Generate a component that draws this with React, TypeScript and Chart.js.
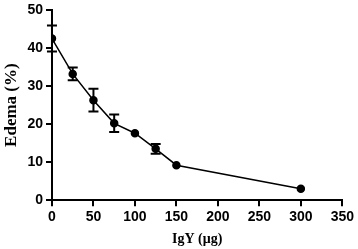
import React, { useEffect, useRef } from "react";
import { Chart, registerables } from "chart.js";

Chart.register(...registerables);

const doses = [0, 25, 50, 75, 100, 125, 150, 300];
const edema = [42.5, 33.2, 26.3, 20.2, 17.6, 13.5, 9.2, 3.0];
const errors = [3.4, 1.7, 3.0, 2.3, 0.5, 1.3, 0.4, 0.4];
const xTitle = "IgY (μg)";
const yTitle = "Edema (%)";

const errorBarPlugin = {
  id: "errorBars",
  afterDatasetsDraw(chart: any) {
    const { ctx, scales } = chart;
    const xs = scales.x;
    const ys = scales.y;
    ctx.save();
    ctx.strokeStyle = "#000";
    ctx.lineWidth = 2;
    doses.forEach((d, i) => {
      const e = errors[i];
      const px = xs.getPixelForValue(d);
      const top = ys.getPixelForValue(edema[i] + e);
      const bot = ys.getPixelForValue(edema[i] - e);
      if (bot - top < 8) return;
      const cap = 5;
      ctx.beginPath();
      ctx.moveTo(px, top);
      ctx.lineTo(px, bot);
      ctx.moveTo(px - cap, top);
      ctx.lineTo(px + cap, top);
      ctx.moveTo(px - cap, bot);
      ctx.lineTo(px + cap, bot);
      ctx.stroke();
    });
    ctx.restore();
  },
};

export default function App() {
  const ref = useRef<HTMLCanvasElement>(null);
  useEffect(() => {
    const tickFont = { family: "Arial, 'Liberation Sans'", size: 14, weight: "bold" as const, lineHeight: 1 };
    const chart = new Chart(ref.current!, {
      type: "scatter",
      data: {
        datasets: [
          {
            data: doses.map((d, i) => ({ x: d, y: edema[i] })),
            showLine: true,
            borderColor: "#000",
            backgroundColor: "#000",
            borderWidth: 1.5,
            pointRadius: 3.5,
            pointBackgroundColor: "#000",
            pointBorderColor: "#000",
          },
        ],
      },
      options: {
        animation: false,
        responsive: false,
        maintainAspectRatio: false,
        layout: { padding: { top: 1, right: 1, left: 1, bottom: 1 } },
        plugins: { legend: { display: false }, tooltip: { enabled: false } },
        scales: {
          x: {
            type: "linear",
            min: 0,
            max: 350,
            ticks: { stepSize: 50, color: "#000", font: tickFont, padding: 4, maxRotation: 0 },
            grid: { drawOnChartArea: false, drawTicks: true, tickLength: 6, color: "#000", lineWidth: 2 },
            border: { color: "#000", width: 2 },
            title: {
              display: true,
              text: xTitle,
              color: "#000",
              font: { family: "'Times New Roman', 'Liberation Serif'", size: 14, weight: "bold" },
              padding: { top: 3, bottom: 0 },
            },
          },
          y: {
            type: "linear",
            min: 0,
            max: 50,
            ticks: { stepSize: 10, color: "#000", font: tickFont, padding: 3 },
            grid: { drawOnChartArea: false, drawTicks: true, tickLength: 6, color: "#000", lineWidth: 2 },
            border: { color: "#000", width: 2 },
            title: {
              display: true,
              text: yTitle,
              color: "#000",
              font: { family: "'Times New Roman', 'Liberation Serif'", size: 17, weight: "bold" },
              padding: { top: 0, bottom: 3 },
            },
          },
        },
      },
      plugins: [errorBarPlugin],
    });
    return () => chart.destroy();
  }, []);
  return (
    <div style={{ position: "absolute", left: 0, top: 0, width: 358, height: 249, background: "#fff" }}>
      <canvas ref={ref} width={358} height={249} />
    </div>
  );
}
